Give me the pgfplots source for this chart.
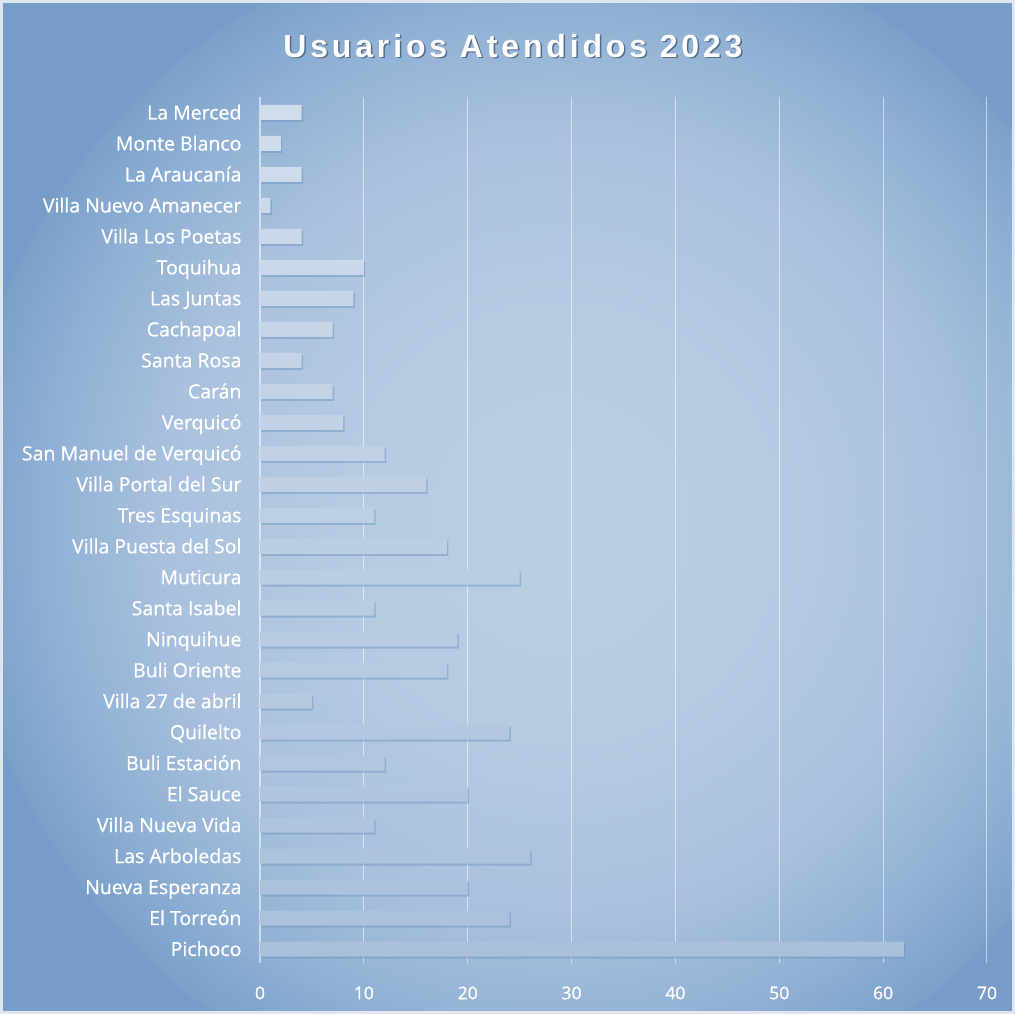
\documentclass[border=0pt]{standalone}
\usepackage{fontspec}
\setmainfont[FakeBold=0.6]{Open Sans}
\newfontfamily\titlefont[LetterSpace=12]{Liberation Sans}
\usepackage{pgfplots}
\usepackage{pgfplotstable}
\pgfplotsset{compat=1.18}
\definecolor{bgbase}{HTML}{779CC7}
\definecolor{bgc0}{HTML}{BACEE4}
\definecolor{bgc1}{HTML}{B6CBE2}
\definecolor{bgc2}{HTML}{A9C1DD}
\definecolor{bgc3}{HTML}{90B0D4}
\definecolor{bgc4}{HTML}{7AA0CA}
\definecolor{bartop}{HTML}{D0DDED}
\definecolor{barbot}{HTML}{A9C0DB}
\definecolor{barshadow}{HTML}{6A92C0}
\pgfdeclareradialshading{bgshade}{\pgfpoint{0bp}{0bp}}{color(0bp)=(bgc0); color(9bp)=(bgc1); color(16.5bp)=(bgc2); color(21.5bp)=(bgc3); color(25bp)=(bgc4); color(50bp)=(bgc4)}
\pgfplotstableread{
i v
0 62
1 24
2 20
3 26
4 11
5 20
6 12
7 24
8 5
9 18
10 19
11 11
12 25
13 18
14 11
15 16
16 12
17 8
18 7
19 4
20 7
21 9
22 10
23 4
24 1
25 4
26 2
27 4
}\datatable
\begin{document}
\begin{tikzpicture}
\useasboundingbox (0,0) rectangle (1015pt,1014pt);
\begin{scope}
\clip (0,0) rectangle (1015pt,1014pt);
\fill[bgbase] (0,0) rectangle (1015pt,1014pt);
\shade[shading=bgshade] (560pt,490pt) circle (600pt);
\end{scope}
\draw[white!60!bgc2, line width=3pt] (1.5pt,1.5pt) rectangle (1013.5pt,1012.5pt);
\node[text=black!30!bgbase, font=\titlefont\bfseries\fontsize{32}{36}\selectfont] at (514.5pt,966.5pt) {Usuarios Atendidos 2023};
\node[text=white, font=\titlefont\bfseries\fontsize{32}{36}\selectfont] at (513pt,968pt) {Usuarios Atendidos 2023};
\begin{axis}[
  at={(260pt,51pt)}, anchor=south west,
  scale only axis, width=727pt, height=866pt,
  xmin=0, xmax=70, ymin=-0.45, ymax=27.5,
  xtick={10,20,...,70},
  extra x ticks={0},
  extra x tick style={grid=major, major grid style={white, line width=2.2pt}},
  ytick={0,...,27},
  yticklabels={Pichoco, El Torreón, Nueva Esperanza, Las Arboledas, Villa Nueva Vida, El Sauce, Buli Estación, Quilelto, Villa 27 de abril, Buli Oriente, Ninquihue, Santa Isabel, Muticura, Villa Puesta del Sol, Tres Esquinas, Villa Portal del Sur, San Manuel de Verquicó, Verquicó, Carán, Santa Rosa, Cachapoal, Las Juntas, Toquihua, Villa Los Poetas, Villa Nuevo Amanecer, La Araucanía, Monte Blanco, La Merced},
  xmajorgrids, major grid style={white, opacity=0.55, line width=1pt},
  axis line style={draw=none},
  major tick length=0pt,
  /pgf/number format/assume math mode=true,
  xticklabel style={text=white, font=\fontsize{17.5}{20}\selectfont, yshift=-20pt},
  yticklabel style={text=white, font=\fontsize{19.5}{22}\selectfont, xshift=-15pt, anchor=base east, yshift=-7pt},
  xbar, bar width=15pt,
  clip=false,
]
\addplot[draw=none, fill=barshadow, opacity=0.45, bar shift=-2pt, xshift=1.5pt] table[x=v, y=i] {\datatable};
\addplot[draw=none, bar shift=0pt, top color=bartop, bottom color=barbot] table[x=v, y=i] {\datatable};
\end{axis}
\end{tikzpicture}
\end{document}
